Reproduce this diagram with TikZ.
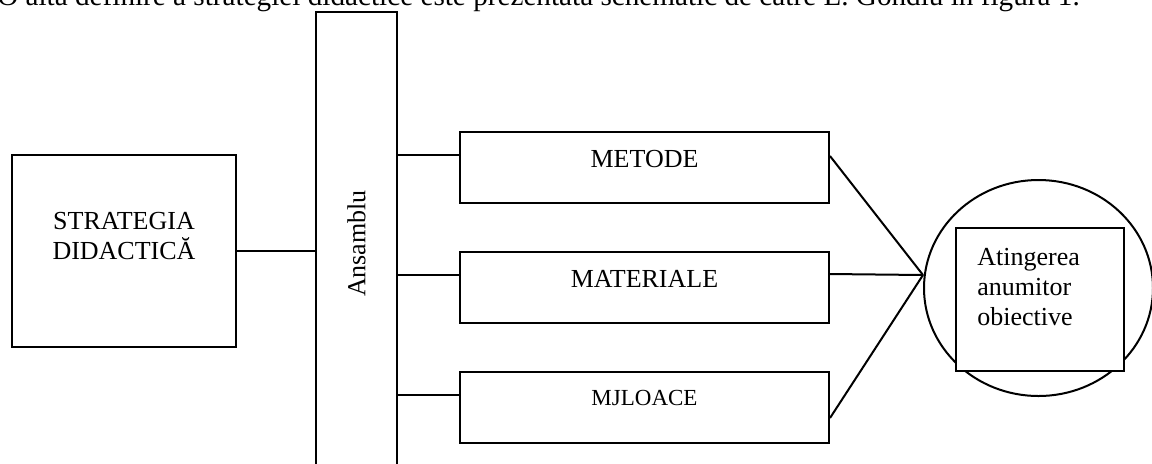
\documentclass[tikz,border=0pt]{standalone}
\usepackage{fontspec}
\setmainfont{Liberation Serif}
\usetikzlibrary{positioning,shapes.geometric}
\tikzset{
  blk/.style={draw, line width=1pt, rectangle, inner sep=0pt},
  midblk/.style={blk, minimum width=184.5pt, minimum height=35.5pt, text height=8.5pt, text depth=8.5pt},
  link/.style={line width=1pt},
}
\begin{document}
\begin{tikzpicture}[x=0.5pt, y=-0.5pt, font=\fontsize{13}{15}\selectfont]
                \useasboundingbox (0, 0) rectangle (1152, 463);

                \node[anchor=base east, inner sep=0pt, font=\fontsize{14.6}{17}\selectfont] (intro) at (1080, 5) {O altă definire a strategiei didactice este prezentată schematic de către L. Gondiu în figura 1.};

                \node[blk, minimum width=112pt, minimum height=96pt] (strat) at (124, 251) {};
                \node[below=29pt of strat.north, align=center, inner sep=0pt] (strattext) {STRATEGIA\\DIDACTICĂ};

                \node[blk, rotate=90, minimum width=231.5pt, minimum height=40.5pt] (ans) at (356.5, 243.5) {Ansamblu};

                \node[midblk] (met) at (644.5, 167.5) {METODE};
                \node[midblk, below=23.5pt of met] (mat) {MATERIALE};
                \node[midblk, below=23.5pt of mat, font=\fontsize{11.5}{13}\selectfont, text height=7.5pt, text depth=10pt] (mjl) {MJLOACE};

                \node[draw, line width=1pt, ellipse, minimum width=114.5pt, minimum height=108pt, inner sep=0pt] (goal) at (1038.5, 288) {};
                \node[blk, fill=white, minimum width=84pt, minimum height=71.5pt] (goalbox) at (1040, 299.5) {};
                \node[below right=10.5pt and 11pt of goalbox.north west, align=left, inner sep=0pt] (goaltext) {Atingerea\\anumitor\\obiective};
                \coordinate (meet) at ([yshift=6.5pt]goal.west);

                \draw[link] (strat.east) -- (strat.east -| ans.north);
                \foreach \b in {met, mat, mjl} {
                    \coordinate (\b-in) at ([yshift=-12pt]\b.north west);
                    \draw[link] (\b-in -| ans.south) -- (\b-in);
                }
                % three lines meet at the left of the ellipse
                \draw[link] ([yshift=-12.5pt]met.north east) -- (meet);
                \draw[link] ([yshift=-11.5pt]mat.north east) -- (meet);
                \draw[link] ([yshift=-23.5pt]mjl.north east) -- (meet);
\end{tikzpicture}
\end{document}
